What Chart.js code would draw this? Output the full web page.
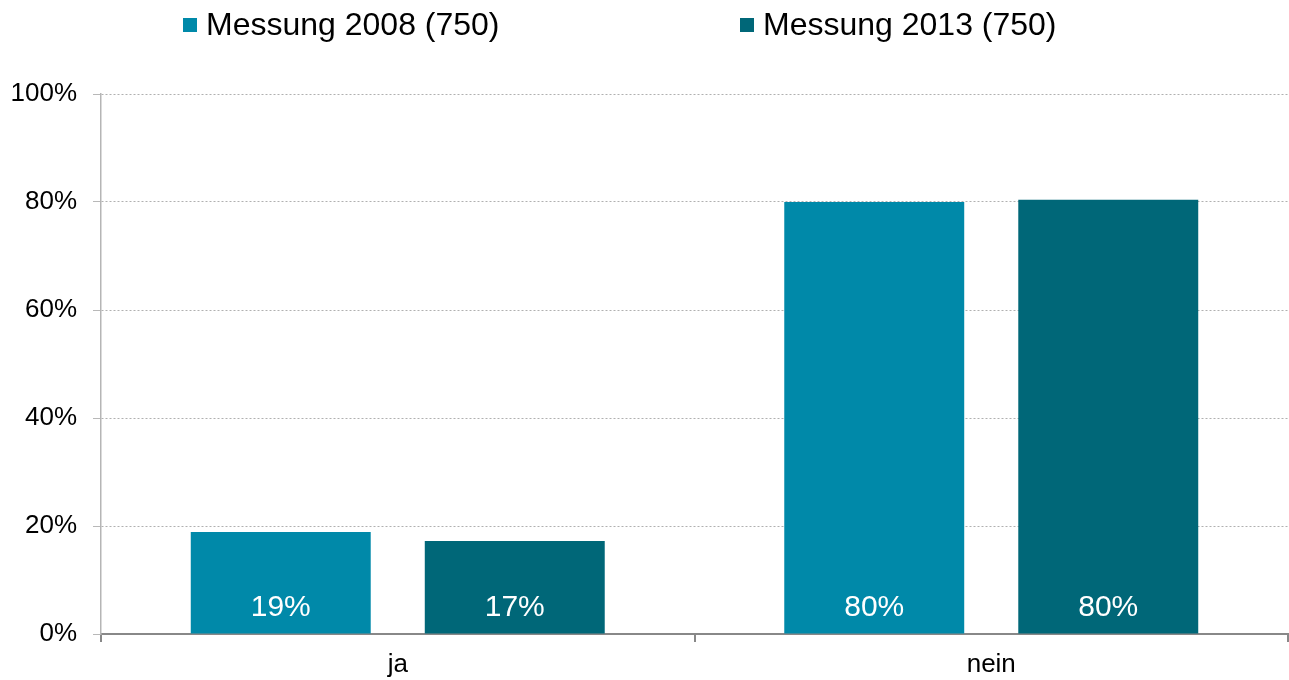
<!DOCTYPE html>
<html>
<head>
<meta charset="utf-8">
<script src="https://cdn.jsdelivr.net/npm/chart.js@4/dist/chart.umd.min.js"></script>
<style>
html,body{margin:0;padding:0;background:#fff;}
#wrap{width:1289px;height:680px;position:relative;}
</style>
</head>
<body>
<div id="wrap"><canvas id="c" width="1289" height="680"></canvas></div>
<script>
const categories = ['ja', 'nein'];
const seriesNames = ['Messung 2008 (750)', 'Messung 2013 (750)'];
const values2008 = [18.9, 80.0];
const values2013 = [17.2, 80.4];
const yTicks = [0, 20, 40, 60, 80, 100];
const colors = ['#0089A9', '#006778'];

const FONT = "'Liberation Sans', Arial, sans-serif";

const dataLabelPlugin = {
  id: 'dataLabels',
  afterDatasetsDraw(chart) {
    const ctx = chart.ctx;
    ctx.save();
    ctx.fillStyle = '#ffffff';
    ctx.font = '30px ' + FONT;
    ctx.textAlign = 'center';
    ctx.textBaseline = 'middle';
    chart.data.datasets.forEach((ds, di) => {
      const meta = chart.getDatasetMeta(di);
      meta.data.forEach((bar, i) => {
        const v = ds.data[i];
        ctx.fillText(Math.round(v) + '%', bar.x, bar.base - 26);
      });
    });
    ctx.restore();
  }
};

const customLegend = {
  id: 'customLegend',
  afterDraw(chart) {
    const ctx = chart.ctx;
    const xs = [183, 740];
    ctx.save();
    ctx.font = '32px ' + FONT;
    ctx.textBaseline = 'middle';
    ctx.textAlign = 'left';
    chart.data.datasets.forEach((ds, i) => {
      const x = xs[i];
      const y = 25;
      ctx.fillStyle = ds.backgroundColor;
      ctx.fillRect(x, y - 7, 14, 14);
      ctx.fillStyle = '#000';
      ctx.fillText(ds.label, x + 23, y + 1);
    });
    ctx.restore();
  }
};

new Chart(document.getElementById('c'), {
  type: 'bar',
  data: {
    labels: categories,
    datasets: [
      { label: seriesNames[0], data: values2008, backgroundColor: colors[0], borderWidth: 0 },
      { label: seriesNames[1], data: values2013, backgroundColor: colors[1], borderWidth: 0 }
    ]
  },
  options: {
    responsive: false,
    animation: false,
    devicePixelRatio: 1,
    categoryPercentage: 0.7886,
    barPercentage: 0.769,
    layout: { padding: { top: 94, right: 1, left: 0, bottom: 0 } },
    plugins: {
      legend: { display: false },
      tooltip: { enabled: false }
    },
    scales: {
      x: {
        afterFit(s) { s.height = 46; },
        grid: { drawOnChartArea: false, offset: true, tickLength: 8, color: '#888', lineWidth: 2 },
        border: { color: '#888', width: 2 },
        ticks: { color: '#000', font: { family: FONT, size: 26 }, padding: 7 }
      },
      y: {
        min: 0, max: 100,
        afterFit(s) { s.width = 101; },
        afterBuildTicks(s) { s.ticks = yTicks.map(v => ({ value: v })); },
        grid: { color: '#b0b0b0', tickColor: '#b8b8b8', tickLength: 8, lineWidth: 1 },
        border: { color: '#b5b5b5', width: 1.5, dash: [2, 2] },
        ticks: { color: '#000', font: { family: FONT, size: 26 }, padding: 16, callback: v => v + '%' }
      }
    }
  },
  plugins: [dataLabelPlugin, customLegend]
});
</script>
</body>
</html>
